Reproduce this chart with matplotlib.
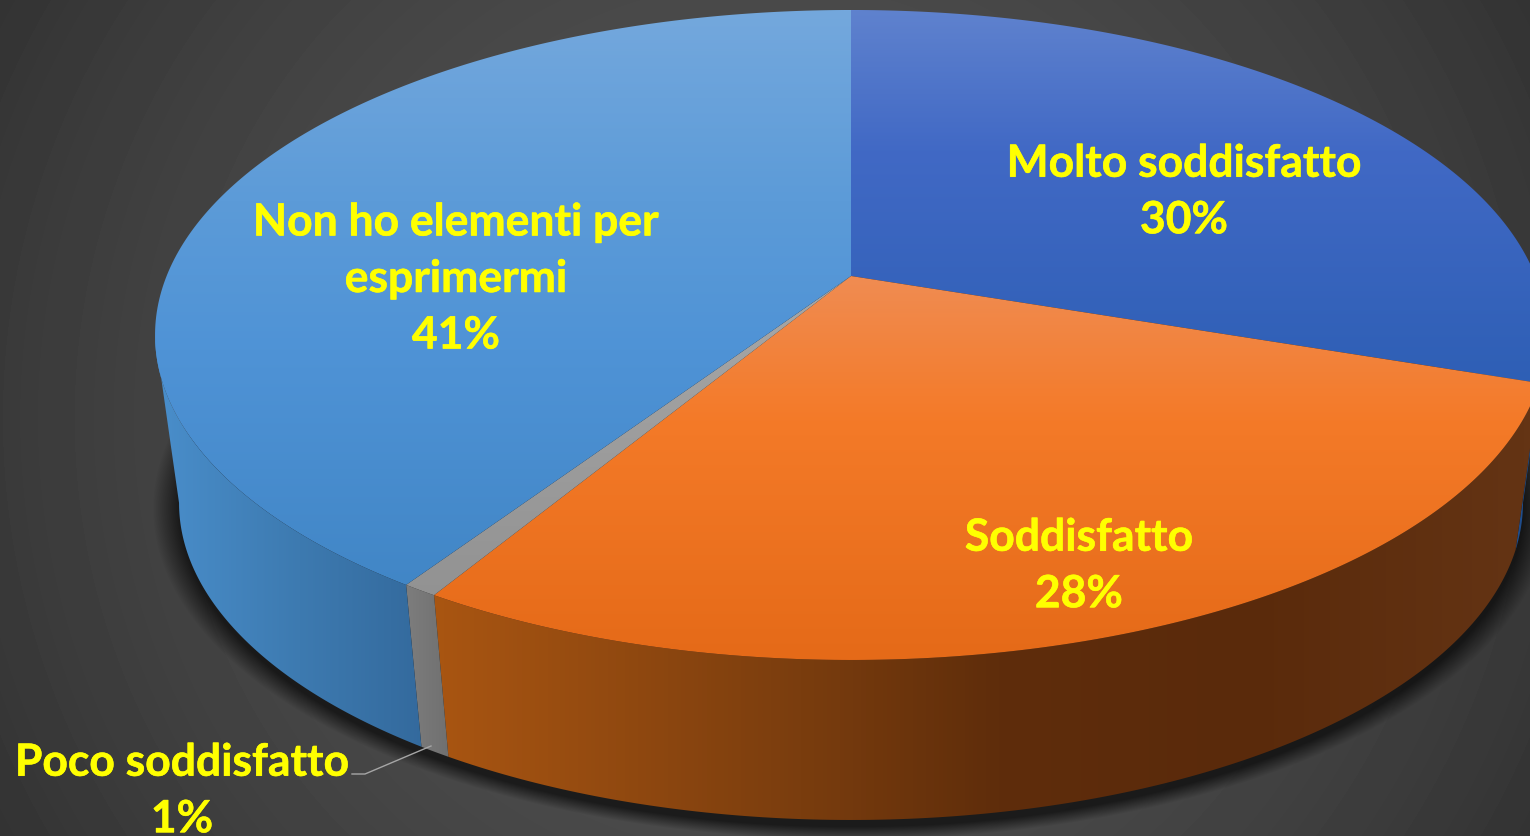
import numpy as np
import matplotlib
matplotlib.use('Agg')
import matplotlib.pyplot as plt
import matplotlib.patheffects as pe
from matplotlib.colors import LinearSegmentedColormap, to_rgb
from matplotlib.patches import Polygon

categories = ['Molto soddisfatto', 'Soddisfatto', 'Poco soddisfatto', 'Non ho elementi per\nesprimermi']
values = [30.2, 28.4, 0.7, 40.7]

top_colors = [
    [(10, '#5f82ce'), (150, '#4169c5'), (385, '#2e5fb5')],
    [(276, '#f08c52'), (420, '#f47a28'), (660, '#e56a18')],
    [(276, '#a8a8a8'), (600, '#929292')],
    [(10, '#74a8dd'), (200, '#5c9bd8'), (350, '#4f93d6'), (590, '#4186c6')],
]
side_colors = [
    [(1500, '#1f4d8c'), (1530, '#1f4d8c')],
    [(425, '#aa5612'), (800, '#7a3d0e'), (1000, '#5f2d0b'), (1250, '#5a2a0b'), (1530, '#643414')],
    [(400, '#7f7f7f'), (455, '#6e6e6e')],
    [(150, '#4a8fcc'), (300, '#3d7ab0'), (430, '#33699c')],
]
label_pos = [(1184, 192), (1079, 566), (182, 791), (456, 279)]

W, H = 1530, 836
cx, apex_y = 851, 276
top_cy, top_rx, top_ry = 335, 696, 325
bot_cy, bot_rx, bot_ry = 503, 672, 317
persp = -0.1815


def top_point(t):
    # t is clockwise from 12 o'clock, the disc is seen in perspective
    u, v = np.sin(t), -np.cos(t)
    d = 1 + persp * v
    return cx + 684.4 * u / d, (264.2 * v + apex_y) / d


def bottom_point(t):
    x, y = top_point(t)
    ex, ey = (x - cx) / top_rx, (y - top_cy) / top_ry
    return cx + bot_rx * ex, bot_cy + bot_ry * ey


def gradient_fill(ax, points, stops, axis):
    lo, hi = stops[0][0], stops[-1][0]
    cmap = LinearSegmentedColormap.from_list('g', [((p - lo) / (hi - lo), to_rgb(c)) for p, c in stops])
    ramp = np.linspace(0, 1, 256)
    if axis == 'x':
        extent = (lo, hi, H, 0)
        img = ramp[None, :]
    else:
        extent = (0, W, hi, lo)
        img = ramp[:, None]
    im = ax.imshow(img, cmap=cmap, vmin=0, vmax=1, extent=extent, aspect='auto', interpolation='bilinear', zorder=3)
    patch = Polygon(points, closed=True, transform=ax.transData, facecolor='none', edgecolor='none')
    ax.add_patch(patch)
    im.set_clip_path(patch)


fig = plt.figure(figsize=(W / 100, H / 100), dpi=100)
ax = fig.add_axes([0, 0, 1, 1])

# background
yy, xx = np.mgrid[0:H, 0:W]
r = np.hypot(xx - 765, yy - 418) / 871
bg = (80 - 29 * r ** 2) / 255
ax.imshow(bg, cmap='gray', vmin=0, vmax=1, extent=(0, W, H, 0), aspect='auto', zorder=0)

# soft shadow under the pie
rho = np.hypot((xx - cx) / (bot_rx + 3), (yy - bot_cy - 5) / (bot_ry + 3))
alpha = np.clip((1.035 - rho) / 0.04, 0, 1) * 0.62
shadow = np.zeros((H, W, 4))
shadow[..., 3] = alpha
ax.imshow(shadow, extent=(0, W, H, 0), aspect='auto', zorder=1)

edges = np.cumsum([0] + values) / sum(values) * 2 * np.pi

# side walls, from the widest point of the disc round the front
t_right = np.arccos(persp)
t_left = 2 * np.pi - t_right
for i in range(len(values)):
    t0, t1 = max(edges[i], t_right), min(edges[i + 1], t_left)
    if t1 <= t0:
        # the first slice only shows as a sliver at the right edge
        t0, t1 = edges[i + 1], t_right
    ts = np.linspace(t0, t1, 150)
    tx, ty = top_point(ts)
    bx, by = bottom_point(ts)
    pts = np.r_[np.c_[tx, ty], np.c_[bx, by][::-1]]
    gradient_fill(ax, pts, side_colors[i], 'x')

# top face
for i in range(len(values)):
    ts = np.linspace(edges[i], edges[i + 1], 200)
    tx, ty = top_point(ts)
    pts = np.r_[[(cx, apex_y)], np.c_[tx, ty]]
    gradient_fill(ax, pts, top_colors[i], 'y')

ax.plot([352, 365, 431], [774, 774, 746], color='#a6a6a6', lw=1, zorder=4)

for name, v, (x, y) in zip(categories, values, label_pos):
    ax.text(x, y, f'{name}\n{v:.0f}%', color='#ffff00', ha='center', va='center',
            fontsize=32, fontweight='bold', family='Lato', linespacing=1.50, zorder=5,
            path_effects=[pe.withStroke(linewidth=0.4, foreground='#ffff00')])

ax.set_xlim(0, W)
ax.set_ylim(H, 0)
ax.axis('off')
fig.savefig('out.png', dpi=100)
